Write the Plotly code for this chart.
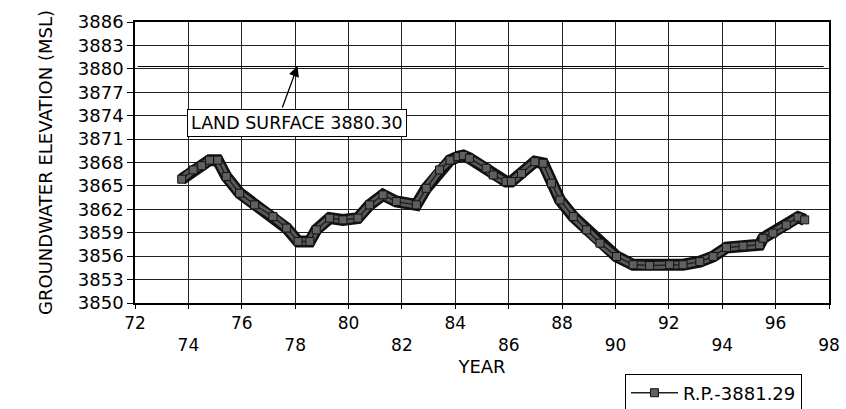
import plotly.graph_objects as go

# Groundwater hydrograph
years = [73.75, 74.18, 74.5, 74.79, 75.1, 75.42, 75.92, 76.48, 77.17, 77.68, 78.11,
         78.55, 78.79, 79.29, 79.79, 80.35, 80.79, 81.29, 81.79, 82.54, 82.91,
         83.41, 83.8, 84.1, 84.3, 84.53, 85.16, 85.42, 85.9, 86.1, 86.48, 86.98,
         87.29, 87.6, 87.92, 88.42, 88.92, 89.42, 90.04, 90.66, 91.28, 92.03,
         92.53, 93.16, 93.66, 94.16, 94.78, 95.4, 95.53, 95.9, 96.4, 96.84, 97.09]
elev = [3865.86, 3867.05, 3867.6, 3868.3, 3868.3, 3866.2, 3864.07, 3862.57, 3861.07,
        3859.6, 3857.88, 3857.88, 3859.37, 3860.87, 3860.65, 3860.87, 3862.57,
        3863.85, 3863.0, 3862.57, 3864.7, 3867.05, 3868.3, 3868.75, 3868.9,
        3868.54, 3867.26, 3866.4, 3865.55, 3865.55, 3866.6, 3868.1, 3867.9,
        3865.35, 3863.2, 3861.07, 3859.37, 3857.67, 3855.96, 3854.9, 3854.8,
        3854.9, 3854.9, 3855.3, 3855.96, 3857.1, 3857.3, 3857.46, 3858.3,
        3858.95, 3860.0, 3861.0, 3860.65]

series_name = "R.P.-3881.29"
land_surface_label = "LAND SURFACE 3880.30"
land_surface_years = [72.1, 97.8]
land_surface_elev = [3880.30, 3880.30]

x_ticks = list(range(72, 99, 2))
x_tick_text = [str(v) if (v - 72) % 4 == 0 else "<br>" + str(v) for v in x_ticks]
y_ticks = list(range(3850, 3887, 3))

FONT = "DejaVu Sans"

fig = go.Figure()

# thick band: dark outline + gray core
fig.add_trace(go.Scatter(x=years, y=elev, mode="lines", showlegend=False,
                         line=dict(color="#111111", width=12), hoverinfo="skip"))
fig.add_trace(go.Scatter(x=years, y=elev, mode="lines", showlegend=False,
                         line=dict(color="#5a5a5a", width=7), hoverinfo="skip"))
fig.add_trace(go.Scatter(x=years, y=elev, mode="lines+markers", name=series_name,
                         line=dict(color="#222222", width=1.5),
                         marker=dict(symbol="square", size=8, color="#606060",
                                     line=dict(color="#111111", width=1))))

# land surface line
fig.add_trace(go.Scatter(x=land_surface_years, y=land_surface_elev, mode="lines",
                         showlegend=False, line=dict(color="black", width=1.2),
                         hoverinfo="skip"))

fig.add_annotation(x=78.07, y=3873.06, xref="x", yref="y", text=land_surface_label,
                   showarrow=False, bordercolor="black", borderwidth=1, borderpad=3,
                   bgcolor="white", font=dict(family=FONT, size=17.5, color="black"))
fig.add_annotation(x=78.09, y=3880.35, xref="x", yref="y", ax=77.5, ay=3874.85,
                   axref="x", ayref="y", text="", showarrow=True, arrowhead=2,
                   arrowsize=1.6, arrowwidth=1.3, arrowcolor="black", standoff=0)

fig.update_xaxes(range=[72, 98], tickvals=x_ticks, ticktext=x_tick_text,
                 showgrid=True, gridcolor="#222222", gridwidth=1,
                 showline=True, mirror=True, linecolor="black", linewidth=1.5,
                 ticks="outside", ticklen=4, tickcolor="black",
                 tickfont=dict(family=FONT, size=17, color="black"),
                 title=dict(text="YEAR", font=dict(family=FONT, size=18, color="black"),
                            standoff=6),
                 zeroline=False)
fig.update_yaxes(range=[3850, 3886], tickvals=y_ticks,
                 showgrid=True, gridcolor="#222222", gridwidth=1,
                 showline=True, mirror=True, linecolor="black", linewidth=1.5,
                 ticks="outside", ticklen=6, tickcolor="black",
                 tickfont=dict(family=FONT, size=18, color="black"),
                 title=dict(text="GROUNDWATER ELEVATION (MSL)",
                            font=dict(family=FONT, size=18, color="black"), standoff=21),
                 zeroline=False)

fig.update_layout(
    width=846, height=409,
    margin=dict(l=135, r=17, t=22, b=106, autoexpand=False),
    paper_bgcolor="white", plot_bgcolor="white",
    font=dict(family=FONT, color="black"),
    showlegend=True,
    legend=dict(x=0.706, y=-0.251, xanchor="left", yanchor="top",
                bordercolor="black", borderwidth=1, bgcolor="white",
                font=dict(family=FONT, size=18, color="black"),
                itemwidth=47, tracegroupgap=0),
    hovermode=False,
)

fig.write_html("out.html", config={"displayModeBar": False},
               post_script="document.body.style.margin='0';document.body.style.overflow='hidden';")
